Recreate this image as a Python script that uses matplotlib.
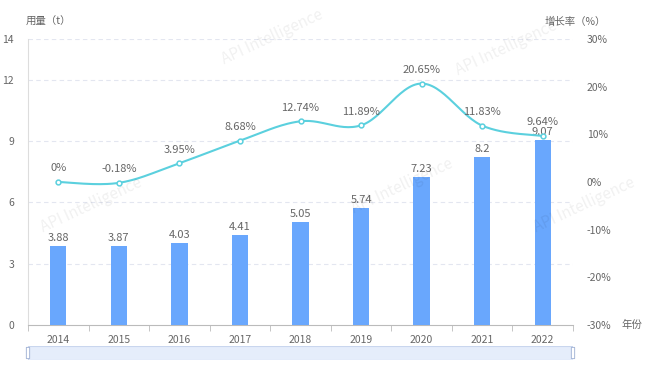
import matplotlib.pyplot as plt
import numpy as np
from matplotlib.patches import FancyBboxPatch

plt.rcParams['font.family'] = ['Noto Sans CJK SC', 'DejaVu Sans']

years = ['2014', '2015', '2016', '2017', '2018', '2019', '2020', '2021', '2022']
usage = [3.88, 3.87, 4.03, 4.41, 5.05, 5.74, 7.23, 8.2, 9.07]
growth = [0, -0.18, 3.95, 8.68, 12.74, 11.89, 20.65, 11.83, 9.64]
growth_labels = ['0%', '-0.18%', '3.95%', '8.68%', '12.74%', '11.89%', '20.65%', '11.83%', '9.64%']

BAR = '#69A7FD'
LINE = '#5BD0DE'
TXT = '#666666'


def smooth(x, y, n=30, t=0.35):
    # bezier smoothing between points, similar to echarts smooth line
    x = np.asarray(x, float); y = np.asarray(y, float)
    xs, ys = [], []
    for i in range(len(x) - 1):
        p0 = np.array([x[max(i - 1, 0)], y[max(i - 1, 0)]])
        p1 = np.array([x[i], y[i]])
        p2 = np.array([x[i + 1], y[i + 1]])
        p3 = np.array([x[min(i + 2, len(x) - 1)], y[min(i + 2, len(x) - 1)]])
        c1 = p1 + (p2 - p0) * t * 0.5
        c2 = p2 - (p3 - p1) * t * 0.5
        s = np.linspace(0, 1, n)[:, None]
        pts = (1 - s) ** 3 * p1 + 3 * (1 - s) ** 2 * s * c1 + 3 * (1 - s) * s ** 2 * c2 + s ** 3 * p2
        xs.extend(pts[:, 0]); ys.extend(pts[:, 1])
    return np.array(xs), np.array(ys)


fig = plt.figure(figsize=(6.49, 3.72), dpi=100)
ax = fig.add_axes([28 / 649, 47 / 372, 545 / 649, 286 / 372])
ax2 = ax.twinx()

x = np.arange(len(years))
ax.bar(x, usage, width=0.27, color=BAR, zorder=3)
for xi, v in zip(x, usage):
    ax.text(xi, v + 0.15, f'{v:g}', ha='center', va='bottom', fontsize=8, color=TXT, zorder=5)

ax.set_xlim(-0.5, len(years) - 0.5)
ax.set_ylim(0, 14)
ax.set_yticks([0, 3, 6, 9, 12, 14])
for yv in [3, 6, 9, 12, 14]:
    ax.axhline(yv, color='#E3E6F0', lw=0.8, ls=(0, (4, 3)), zorder=1)
ax.set_xticks(x)
ax.set_xticklabels(years)
ax.set_xticks(np.arange(-0.5, len(years), 1), minor=True)
ax.tick_params(axis='x', which='major', length=0, labelsize=7.5, colors=TXT, pad=7)
ax.tick_params(axis='x', which='minor', length=4, color='#BBBBBB')
ax.tick_params(axis='y', length=0, labelsize=7.5, colors=TXT, pad=10)

for s in ['top', 'right']:
    ax.spines[s].set_visible(False)
ax.spines['left'].set_color('#DDDDDD')
ax.spines['bottom'].set_color('#BBBBBB')
for s in ax2.spines.values():
    s.set_visible(False)

sx, sy = smooth(x, growth)
ax2.plot(sx, sy, color=LINE, lw=1.5, zorder=4)
ax2.scatter(x, growth, s=12, facecolor='white', edgecolor=LINE, linewidth=1.1, zorder=5)
for xi, v, lab in zip(x, growth, growth_labels):
    ax2.text(xi, v + 1.8, lab, ha='center', va='bottom', fontsize=8, color=TXT, zorder=6)
ax2.set_ylim(-30, 30)
ax2.set_yticks([-30, -20, -10, 0, 10, 20, 30])
ax2.set_yticklabels([f'{v}%' for v in [-30, -20, -10, 0, 10, 20, 30]])
ax2.tick_params(axis='y', length=0, labelsize=7.5, colors=TXT, pad=10)

fig.text(26 / 649, 1 - 22 / 372, '用量（t）', fontsize=7.5, color=TXT, va='center')
fig.text(545 / 649, 1 - 22 / 372, '增长率（%）', fontsize=7.5, color=TXT, va='center')
fig.text(621 / 649, 1 - 325 / 372, '年份', fontsize=7.5, color=TXT, va='center')

# data zoom slider
sl = fig.add_axes([28 / 649, 12 / 372, 545 / 649, 14 / 372])
sl.axis('off')
sl.set_xlim(0, 1); sl.set_ylim(0, 1)
sl.add_patch(plt.Rectangle((0, 0), 1, 1, facecolor='#E5EDFB', edgecolor='#C9D6EE', lw=0.8))
for hx in [0.0, 1.0]:
    sl.add_patch(FancyBboxPatch((hx - 0.003, 0.1), 0.006, 0.8, boxstyle='round,pad=0,rounding_size=0.003',
                                facecolor='white', edgecolor='#A8B8D8', lw=0.7, clip_on=False))

# watermarks
for wx, wy in [(0.42, 0.90), (0.78, 0.87), (0.14, 0.45), (0.62, 0.50), (0.90, 0.45)]:
    fig.text(wx, wy, 'API Intelligence', fontsize=11, color='#000000', alpha=0.06,
             rotation=25, ha='center', va='center')

fig.savefig('out.png', dpi=100)
